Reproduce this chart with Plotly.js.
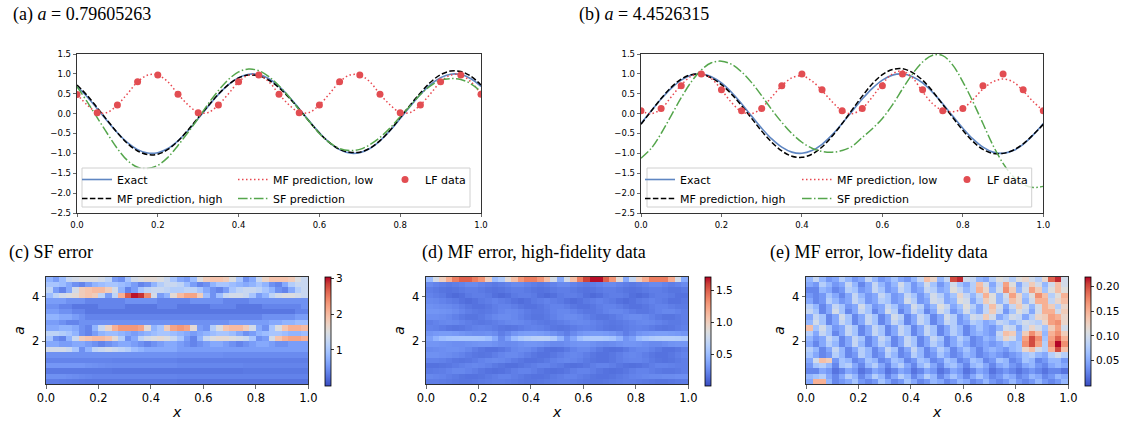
<!DOCTYPE html>
<html><head><meta charset="utf-8">
<script src="https://cdn.plot.ly/plotly-3.0.1.min.js"></script>
<style>html,body{margin:0;padding:0;background:#fff}#chart{width:1125px;height:424px}</style>
</head><body><div id="chart"></div>
<script>
// ---------- line-plot data ----------
const xLine = [0,0.025,0.05,0.075,0.1,0.125,0.15,0.175,0.2,0.225,0.25,0.275,0.3,0.325,0.35,0.375,0.4,0.425,0.45,0.475,0.5,0.525,0.55,0.575,0.6,0.625,0.65,0.675,0.7,0.725,0.75,0.775,0.8,0.825,0.85,0.875,0.9,0.925,0.95,0.975,1];
const xLF = [0,0.05,0.1,0.15,0.2,0.25,0.3,0.35,0.4,0.45,0.5,0.55,0.6,0.65,0.7,0.75,0.8,0.85,0.9,0.95,1];

const exactA = [0.685,0.426,0.125,-0.187,-0.482,-0.729,-0.905,-0.992,-0.982,-0.876,-0.685,-0.426,-0.125,0.187,0.482,0.729,0.905,0.992,0.982,0.876,0.685,0.426,0.125,-0.187,-0.482,-0.729,-0.905,-0.992,-0.982,-0.876,-0.685,-0.426,-0.125,0.187,0.482,0.729,0.905,0.992,0.982,0.876,0.685];
const mfHighA = [0.72,0.46,0.15,-0.17,-0.48,-0.75,-0.94,-1.03,-1.02,-0.9,-0.69,-0.41,-0.1,0.2,0.49,0.73,0.9,0.97,0.95,0.84,0.65,0.4,0.11,-0.2,-0.49,-0.73,-0.9,-0.97,-0.97,-0.87,-0.68,-0.42,-0.1,0.22,0.52,0.79,0.98,1.07,1.06,0.94,0.72];
const mfLowA = [0.49,0.22,0.03,0.03,0.22,0.5,0.8,0.97,0.97,0.8,0.49,0.22,0.03,0.03,0.22,0.5,0.8,0.97,0.97,0.8,0.49,0.22,0.03,0.03,0.22,0.5,0.8,0.97,0.97,0.8,0.49,0.22,0.03,0.03,0.22,0.5,0.8,0.97,0.97,0.8,0.49];
const sfA = [0.68,0.3,-0.1,-0.5,-0.88,-1.18,-1.35,-1.38,-1.3,-1.1,-0.8,-0.47,-0.12,0.25,0.58,0.86,1.05,1.12,1.08,0.93,0.7,0.42,0.1,-0.2,-0.5,-0.73,-0.88,-0.93,-0.9,-0.78,-0.6,-0.36,-0.08,0.2,0.48,0.7,0.84,0.88,0.86,0.75,0.55];
const lfA = [0.48,0.02,0.22,0.8,0.97,0.49,0.02,0.22,0.8,0.97,0.49,0.02,0.22,0.8,0.97,0.49,0.02,0.22,0.8,0.97,0.49];

const exactB = [-0.249,0.063,0.368,0.637,0.844,0.969,0.998,0.93,0.771,0.536,0.249,-0.063,-0.368,-0.637,-0.844,-0.969,-0.998,-0.93,-0.771,-0.536,-0.249,0.063,0.368,0.637,0.844,0.969,0.998,0.93,0.771,0.536,0.249,-0.063,-0.368,-0.637,-0.844,-0.969,-0.998,-0.93,-0.771,-0.536,-0.249];
const mfHighB = [-0.27,0.06,0.38,0.66,0.87,0.98,0.99,0.9,0.73,0.49,0.2,-0.12,-0.44,-0.72,-0.94,-1.07,-1.1,-1.02,-0.84,-0.57,-0.25,0.1,0.44,0.75,0.98,1.11,1.13,1.03,0.84,0.56,0.23,-0.1,-0.42,-0.7,-0.9,-1.0,-1.0,-0.92,-0.76,-0.53,-0.27];
const mfLowB = [0.07,0.0,0.12,0.42,0.72,0.94,1.0,0.88,0.6,0.28,0.05,0.0,0.14,0.42,0.7,0.9,0.95,0.82,0.58,0.3,0.07,0.0,0.13,0.42,0.75,1.0,1.07,0.9,0.55,0.25,0.08,0.05,0.13,0.35,0.62,0.8,0.87,0.8,0.57,0.3,0.07];
const sfB = [-1.12,-0.88,-0.5,-0.05,0.4,0.8,1.1,1.28,1.32,1.24,1.05,0.78,0.45,0.1,-0.22,-0.5,-0.72,-0.87,-0.95,-0.97,-0.93,-0.82,-0.6,-0.38,-0.12,0.22,0.62,1.0,1.3,1.47,1.46,1.22,0.8,0.3,-0.25,-0.8,-1.25,-1.58,-1.78,-1.86,-1.83];
const lfB = [0.07,0.13,0.7,1.0,0.6,0.07,0.13,0.7,1.0,0.6,0.07,0.13,0.7,1.0,0.6,0.07,0.13,0.7,1.0,0.6,0.07];

const lineYTicks = [-2.5,-2.0,-1.5,-1.0,-0.5,0.0,0.5,1.0,1.5];
const xTicks = [0,0.2,0.4,0.6,0.8,1.0];
const aTicks = [2,4];

// ---------- heatmap grids ----------
const xGrid = [0.0125,0.0375,0.0625,0.0875,0.1125,0.1375,0.1625,0.1875,0.2125,0.2375,0.2625,0.2875,0.3125,0.3375,0.3625,0.3875,0.4125,0.4375,0.4625,0.4875,0.5125,0.5375,0.5625,0.5875,0.6125,0.6375,0.6625,0.6875,0.7125,0.7375,0.7625,0.7875,0.8125,0.8375,0.8625,0.8875,0.9125,0.9375,0.9625,0.9875];
const aGrid = [0.171,0.414,0.656,0.899,1.141,1.384,1.626,1.869,2.111,2.354,2.596,2.839,3.081,3.324,3.566,3.809,4.051,4.294,4.536,4.779];

const errSF = [
[0.35,0.35,0.34,0.33,0.32,0.31,0.3,0.3,0.3,0.3,0.3,0.3,0.3,0.3,0.3,0.3,0.3,0.3,0.3,0.3,0.28,0.28,0.28,0.28,0.28,0.28,0.28,0.28,0.28,0.28,0.28,0.28,0.28,0.28,0.28,0.28,0.28,0.28,0.28,0.28],
[0.5,0.5,0.5,0.48,0.46,0.44,0.42,0.4,0.4,0.4,0.4,0.4,0.4,0.4,0.4,0.4,0.4,0.4,0.4,0.4,0.38,0.38,0.38,0.38,0.38,0.38,0.38,0.38,0.38,0.38,0.38,0.38,0.38,0.38,0.38,0.38,0.38,0.38,0.38,0.38],
[0.32,0.32,0.32,0.32,0.32,0.32,0.32,0.32,0.32,0.32,0.3,0.3,0.3,0.3,0.3,0.3,0.3,0.3,0.3,0.3,0.3,0.3,0.3,0.3,0.3,0.3,0.3,0.3,0.3,0.3,0.32,0.32,0.32,0.32,0.32,0.32,0.32,0.32,0.32,0.32],
[0.55,0.55,0.55,0.55,0.55,0.55,0.52,0.5,0.48,0.46,0.45,0.45,0.45,0.45,0.45,0.45,0.45,0.45,0.45,0.45,0.42,0.42,0.42,0.42,0.42,0.42,0.42,0.42,0.42,0.42,0.4,0.4,0.4,0.4,0.4,0.4,0.4,0.4,0.4,0.4],
[0.4,0.4,0.4,0.4,0.4,0.4,0.4,0.4,0.4,0.4,0.38,0.38,0.38,0.38,0.38,0.38,0.38,0.38,0.38,0.38,0.35,0.35,0.35,0.35,0.35,0.35,0.35,0.35,0.35,0.35,0.35,0.35,0.35,0.35,0.35,0.35,0.35,0.35,0.35,0.35],
[0.5,0.5,0.5,0.5,0.5,0.5,0.5,0.5,0.5,0.5,0.5,0.5,0.5,0.5,0.5,0.5,0.5,0.5,0.5,0.5,0.48,0.48,0.48,0.48,0.48,0.48,0.48,0.45,0.45,0.45,0.45,0.45,0.45,0.45,0.45,0.45,0.45,0.45,0.45,0.45],
[1.4,1.4,1.4,1.3,1.0,0.5,0.8,1.2,1.3,1.4,1.3,1.2,1.1,0.9,0.8,0.7,0.7,0.7,0.7,0.7,0.6,0.6,0.6,0.6,0.6,0.6,0.6,0.6,0.6,0.6,0.6,0.6,0.6,0.6,0.6,0.6,0.6,0.6,0.6,0.6],
[0.7,0.7,0.6,0.6,0.7,0.7,0.6,0.5,0.4,0.5,0.6,0.7,0.7,0.6,0.5,0.4,0.5,0.6,0.7,0.7,0.6,0.5,0.4,0.5,0.6,0.7,0.7,0.6,0.5,0.4,0.5,0.6,0.7,0.7,0.6,0.5,0.5,0.6,0.6,0.6],
[1.0,0.5,0.4,0.8,1.3,1.8,1.9,2.0,2.0,1.9,1.6,1.1,0.5,0.7,1.2,1.4,1.5,1.6,1.5,1.3,1.0,0.6,0.4,0.8,1.3,1.5,1.6,1.6,1.5,1.4,1.3,1.0,0.5,0.6,1.4,1.9,2.1,2.2,2.2,2.1],
[1.2,1.2,1.1,1.0,0.8,0.5,0.4,0.6,0.8,0.9,0.9,0.8,0.7,0.6,0.7,0.8,0.9,1.0,1.0,0.9,0.8,0.7,0.6,0.7,0.8,0.9,1.0,1.0,0.9,0.7,0.5,0.6,0.8,0.9,1.0,1.0,0.9,0.8,0.8,0.9],
[0.7,0.7,0.8,0.8,0.7,0.5,0.4,0.8,1.3,1.7,2.1,2.3,2.3,2.3,2.2,1.6,0.8,1.0,1.8,2.2,2.3,2.2,1.6,0.6,0.5,1.1,1.5,1.9,2.0,2.0,1.8,1.4,0.7,0.5,1.0,1.5,1.9,2.1,2.1,2.0],
[0.6,0.6,0.5,0.4,0.4,0.5,0.5,0.5,0.5,0.5,0.5,0.5,0.5,0.5,0.5,0.5,0.5,0.5,0.5,0.5,0.5,0.5,0.5,0.5,0.5,0.5,0.5,0.5,0.6,0.6,0.6,0.6,0.6,0.6,0.7,0.7,0.8,0.8,0.9,0.9],
[0.8,0.8,0.7,0.7,0.6,0.5,0.4,0.4,0.4,0.4,0.4,0.4,0.4,0.4,0.4,0.4,0.4,0.4,0.4,0.4,0.4,0.4,0.4,0.4,0.4,0.4,0.4,0.4,0.4,0.4,0.4,0.4,0.4,0.5,0.5,0.5,0.5,0.5,0.6,0.6],
[0.6,0.6,0.5,0.5,0.4,0.4,0.3,0.3,0.3,0.3,0.3,0.3,0.3,0.3,0.3,0.3,0.3,0.3,0.3,0.3,0.3,0.3,0.3,0.3,0.3,0.3,0.3,0.3,0.3,0.3,0.3,0.3,0.3,0.3,0.3,0.3,0.3,0.3,0.4,0.4],
[0.5,0.5,0.4,0.4,0.3,0.3,0.3,0.3,0.4,0.4,0.4,0.4,0.3,0.3,0.3,0.3,0.3,0.4,0.4,0.4,0.3,0.3,0.3,0.3,0.3,0.4,0.4,0.4,0.4,0.3,0.3,0.3,0.3,0.4,0.4,0.4,0.4,0.4,0.4,0.5],
[0.6,0.6,0.6,0.5,0.5,0.5,0.4,0.4,0.4,0.4,0.4,0.4,0.5,0.5,0.5,0.5,0.5,0.4,0.4,0.4,0.4,0.4,0.5,0.5,0.5,0.5,0.5,0.4,0.4,0.4,0.4,0.5,0.5,0.5,0.5,0.5,0.5,0.5,0.5,0.5],
[0.9,1.2,1.4,1.5,1.6,1.8,1.9,1.8,1.2,0.6,1.2,2.1,2.7,3.0,2.9,2.4,1.4,0.6,0.8,1.6,2.0,2.2,2.2,1.8,0.9,0.5,0.9,1.3,1.4,1.4,1.3,1.0,0.6,0.8,1.2,1.4,1.5,1.5,1.4,1.3],
[1.2,0.6,0.4,0.7,1.4,1.8,1.9,2.0,2.0,1.8,1.4,0.8,0.4,0.6,1.0,1.2,1.3,1.3,1.2,1.1,1.1,1.2,1.2,1.0,0.7,0.5,0.4,0.6,1.0,1.2,1.3,1.3,1.2,1.0,0.8,0.5,0.4,0.7,1.1,1.3],
[1.0,1.0,0.9,0.7,0.5,0.4,0.6,0.8,0.9,1.0,1.0,0.9,0.8,0.6,0.4,0.5,0.8,1.1,1.3,1.3,1.2,0.9,0.6,0.4,0.5,0.8,1.0,1.0,0.9,0.8,0.7,0.8,1.0,0.8,0.5,0.4,0.7,1.1,1.3,1.3],
[0.8,0.6,0.9,1.3,1.4,1.5,1.5,1.5,1.4,1.2,0.6,0.5,1.0,1.4,1.5,1.6,1.6,1.5,1.3,1.0,0.7,0.6,0.9,1.5,1.8,1.9,1.9,1.8,1.5,1.0,0.5,0.7,1.3,1.7,1.9,1.9,1.9,1.8,1.5,1.3]
];

const errMFHigh = [
[0.2,0.2,0.19,0.18,0.17,0.16,0.16,0.17,0.18,0.19,0.2,0.2,0.19,0.18,0.17,0.16,0.16,0.17,0.18,0.19,0.2,0.2,0.19,0.18,0.17,0.16,0.16,0.17,0.18,0.19,0.2,0.2,0.19,0.18,0.17,0.16,0.16,0.17,0.18,0.19],
[0.24,0.23,0.22,0.2,0.18,0.16,0.15,0.15,0.16,0.18,0.2,0.22,0.22,0.2,0.18,0.16,0.15,0.15,0.16,0.18,0.2,0.22,0.22,0.2,0.18,0.16,0.15,0.15,0.16,0.18,0.2,0.22,0.23,0.24,0.25,0.25,0.26,0.26,0.27,0.27],
[0.18,0.19,0.2,0.22,0.24,0.24,0.22,0.2,0.17,0.15,0.14,0.15,0.17,0.2,0.22,0.22,0.2,0.17,0.15,0.14,0.15,0.17,0.2,0.22,0.22,0.2,0.17,0.15,0.14,0.15,0.17,0.2,0.22,0.22,0.2,0.18,0.17,0.17,0.18,0.2],
[0.15,0.15,0.16,0.17,0.19,0.21,0.23,0.24,0.23,0.21,0.18,0.16,0.14,0.14,0.16,0.18,0.2,0.22,0.22,0.2,0.18,0.15,0.14,0.15,0.17,0.2,0.22,0.22,0.2,0.17,0.15,0.14,0.15,0.17,0.2,0.22,0.22,0.21,0.2,0.2],
[0.22,0.22,0.21,0.19,0.17,0.16,0.17,0.19,0.22,0.24,0.25,0.24,0.22,0.19,0.17,0.15,0.15,0.16,0.18,0.21,0.23,0.24,0.23,0.21,0.18,0.16,0.15,0.15,0.17,0.2,0.22,0.23,0.23,0.21,0.18,0.16,0.15,0.16,0.18,0.2],
[0.28,0.28,0.27,0.26,0.24,0.22,0.19,0.17,0.16,0.17,0.2,0.23,0.25,0.25,0.23,0.2,0.17,0.15,0.15,0.17,0.2,0.23,0.24,0.23,0.2,0.17,0.15,0.15,0.17,0.2,0.23,0.24,0.23,0.2,0.17,0.15,0.15,0.17,0.2,0.22],
[0.25,0.26,0.27,0.28,0.28,0.27,0.24,0.2,0.17,0.15,0.15,0.17,0.2,0.24,0.26,0.25,0.22,0.18,0.15,0.14,0.15,0.18,0.22,0.25,0.25,0.22,0.18,0.15,0.14,0.15,0.18,0.22,0.24,0.24,0.21,0.18,0.15,0.15,0.17,0.2],
[0.3,0.3,0.29,0.28,0.27,0.27,0.28,0.29,0.3,0.3,0.28,0.26,0.25,0.26,0.28,0.3,0.3,0.29,0.27,0.25,0.25,0.27,0.29,0.3,0.3,0.28,0.26,0.25,0.26,0.28,0.3,0.3,0.29,0.27,0.25,0.25,0.27,0.29,0.3,0.3],
[0.35,0.45,0.52,0.55,0.56,0.57,0.57,0.57,0.56,0.52,0.4,0.25,0.35,0.5,0.58,0.62,0.65,0.66,0.65,0.6,0.45,0.28,0.38,0.52,0.58,0.6,0.6,0.58,0.55,0.45,0.3,0.35,0.5,0.56,0.6,0.62,0.63,0.63,0.62,0.6],
[0.3,0.32,0.33,0.33,0.32,0.3,0.28,0.27,0.27,0.28,0.26,0.2,0.24,0.3,0.33,0.34,0.34,0.33,0.31,0.28,0.24,0.2,0.25,0.3,0.32,0.33,0.33,0.32,0.3,0.26,0.2,0.24,0.3,0.32,0.33,0.34,0.34,0.33,0.32,0.3],
[0.22,0.21,0.19,0.17,0.16,0.17,0.19,0.21,0.22,0.21,0.19,0.17,0.16,0.17,0.19,0.21,0.22,0.21,0.19,0.17,0.16,0.17,0.19,0.21,0.22,0.21,0.19,0.17,0.16,0.17,0.19,0.21,0.22,0.21,0.19,0.17,0.16,0.17,0.19,0.21],
[0.2,0.22,0.24,0.25,0.24,0.22,0.2,0.18,0.17,0.18,0.2,0.22,0.24,0.25,0.24,0.22,0.2,0.18,0.17,0.18,0.2,0.22,0.24,0.25,0.24,0.22,0.2,0.18,0.17,0.18,0.2,0.22,0.24,0.25,0.24,0.22,0.2,0.18,0.18,0.2],
[0.27,0.27,0.26,0.24,0.21,0.18,0.16,0.16,0.18,0.21,0.24,0.26,0.26,0.24,0.21,0.18,0.16,0.16,0.18,0.21,0.24,0.26,0.26,0.24,0.21,0.18,0.16,0.16,0.18,0.21,0.24,0.26,0.26,0.24,0.21,0.18,0.16,0.16,0.18,0.2],
[0.3,0.3,0.29,0.28,0.26,0.23,0.2,0.18,0.17,0.18,0.2,0.23,0.25,0.24,0.22,0.19,0.17,0.17,0.19,0.22,0.24,0.24,0.22,0.19,0.17,0.17,0.19,0.22,0.24,0.24,0.22,0.19,0.17,0.17,0.19,0.22,0.24,0.24,0.22,0.2],
[0.28,0.27,0.26,0.25,0.23,0.2,0.17,0.15,0.15,0.17,0.2,0.22,0.22,0.2,0.17,0.15,0.15,0.17,0.2,0.22,0.22,0.2,0.17,0.15,0.15,0.17,0.2,0.22,0.22,0.2,0.17,0.15,0.15,0.17,0.2,0.22,0.22,0.2,0.18,0.18],
[0.25,0.24,0.22,0.2,0.18,0.15,0.13,0.15,0.18,0.2,0.22,0.2,0.18,0.15,0.13,0.15,0.18,0.2,0.22,0.2,0.18,0.15,0.13,0.15,0.18,0.2,0.22,0.2,0.18,0.15,0.13,0.15,0.18,0.2,0.22,0.2,0.18,0.15,0.15,0.17],
[0.22,0.2,0.18,0.14,0.12,0.14,0.18,0.2,0.2,0.18,0.14,0.12,0.14,0.18,0.2,0.2,0.18,0.14,0.12,0.14,0.18,0.2,0.2,0.18,0.14,0.12,0.14,0.18,0.2,0.2,0.18,0.14,0.12,0.14,0.18,0.2,0.2,0.18,0.15,0.15],
[0.2,0.18,0.16,0.15,0.16,0.18,0.2,0.2,0.18,0.16,0.15,0.16,0.18,0.2,0.2,0.18,0.16,0.15,0.16,0.18,0.2,0.2,0.18,0.16,0.15,0.16,0.18,0.2,0.2,0.18,0.16,0.15,0.16,0.18,0.2,0.2,0.18,0.16,0.16,0.18],
[0.25,0.22,0.2,0.18,0.2,0.22,0.25,0.25,0.22,0.2,0.18,0.2,0.22,0.25,0.25,0.22,0.2,0.18,0.2,0.22,0.25,0.25,0.22,0.2,0.18,0.2,0.22,0.25,0.25,0.22,0.2,0.18,0.2,0.22,0.25,0.25,0.22,0.2,0.22,0.25],
[0.5,0.8,1.0,1.2,1.4,1.5,1.5,1.4,1.3,1.0,0.5,0.6,0.9,1.1,1.3,1.4,1.4,1.3,1.1,0.8,0.4,0.8,1.1,1.4,1.6,1.7,1.7,1.5,1.3,0.9,0.4,0.7,1.0,1.2,1.4,1.4,1.4,1.2,0.8,0.4]
];

const errMFLow = [
[0.05,0.15,0.15,0.06,0.03,0.04,0.05,0.07,0.04,0.03,0.04,0.07,0.05,0.03,0.04,0.07,0.05,0.03,0.04,0.06,0.05,0.03,0.04,0.06,0.05,0.03,0.04,0.06,0.04,0.03,0.04,0.06,0.04,0.03,0.04,0.06,0.04,0.03,0.04,0.06],
[0.06,0.07,0.08,0.05,0.03,0.05,0.08,0.06,0.03,0.05,0.08,0.06,0.03,0.05,0.08,0.06,0.03,0.05,0.08,0.06,0.03,0.05,0.07,0.05,0.03,0.05,0.07,0.05,0.03,0.04,0.06,0.05,0.03,0.04,0.06,0.05,0.03,0.04,0.06,0.05],
[0.03,0.03,0.05,0.04,0.02,0.03,0.05,0.04,0.02,0.03,0.05,0.04,0.02,0.03,0.05,0.04,0.02,0.03,0.05,0.04,0.02,0.03,0.05,0.04,0.02,0.03,0.05,0.04,0.02,0.03,0.04,0.03,0.02,0.03,0.04,0.03,0.02,0.03,0.03,0.02],
[0.04,0.07,0.08,0.06,0.03,0.07,0.08,0.05,0.03,0.06,0.08,0.05,0.03,0.06,0.08,0.05,0.03,0.06,0.08,0.05,0.03,0.06,0.07,0.05,0.03,0.06,0.07,0.05,0.03,0.05,0.06,0.04,0.03,0.05,0.06,0.04,0.03,0.05,0.06,0.05],
[0.05,0.1,0.14,0.13,0.04,0.07,0.06,0.03,0.04,0.07,0.06,0.03,0.04,0.07,0.06,0.03,0.04,0.07,0.06,0.03,0.04,0.07,0.06,0.03,0.04,0.07,0.06,0.03,0.04,0.07,0.06,0.03,0.04,0.07,0.06,0.03,0.04,0.06,0.06,0.04],
[0.07,0.05,0.03,0.04,0.08,0.06,0.03,0.04,0.08,0.06,0.03,0.04,0.08,0.06,0.03,0.04,0.08,0.06,0.03,0.04,0.07,0.05,0.03,0.04,0.06,0.05,0.03,0.04,0.05,0.04,0.03,0.04,0.05,0.07,0.08,0.06,0.05,0.08,0.1,0.08],
[0.08,0.06,0.03,0.05,0.09,0.06,0.03,0.05,0.08,0.06,0.03,0.05,0.09,0.07,0.03,0.05,0.09,0.06,0.03,0.05,0.08,0.06,0.03,0.05,0.07,0.05,0.03,0.05,0.06,0.05,0.04,0.06,0.07,0.12,0.14,0.1,0.08,0.15,0.2,0.14],
[0.05,0.03,0.05,0.08,0.06,0.03,0.05,0.09,0.06,0.03,0.05,0.08,0.06,0.03,0.05,0.09,0.07,0.03,0.05,0.08,0.06,0.03,0.05,0.07,0.05,0.03,0.04,0.05,0.04,0.05,0.07,0.06,0.07,0.17,0.2,0.16,0.08,0.17,0.22,0.17],
[0.06,0.04,0.05,0.09,0.07,0.03,0.05,0.09,0.07,0.03,0.05,0.09,0.07,0.03,0.05,0.09,0.07,0.03,0.05,0.09,0.07,0.03,0.05,0.08,0.06,0.03,0.04,0.06,0.05,0.08,0.12,0.1,0.06,0.16,0.2,0.17,0.07,0.16,0.19,0.15],
[0.08,0.05,0.09,0.07,0.03,0.05,0.09,0.07,0.03,0.05,0.09,0.07,0.03,0.05,0.09,0.07,0.03,0.05,0.09,0.07,0.03,0.05,0.08,0.06,0.03,0.05,0.06,0.05,0.04,0.09,0.14,0.13,0.06,0.13,0.17,0.14,0.06,0.15,0.17,0.13],
[0.14,0.07,0.1,0.07,0.04,0.05,0.09,0.07,0.03,0.05,0.09,0.07,0.03,0.05,0.09,0.07,0.03,0.05,0.09,0.07,0.03,0.05,0.08,0.06,0.03,0.05,0.07,0.05,0.04,0.06,0.1,0.09,0.05,0.09,0.12,0.1,0.07,0.13,0.16,0.1],
[0.06,0.1,0.07,0.03,0.05,0.09,0.07,0.03,0.05,0.09,0.07,0.03,0.05,0.09,0.07,0.03,0.05,0.09,0.07,0.03,0.05,0.09,0.08,0.04,0.05,0.08,0.07,0.05,0.06,0.09,0.08,0.06,0.08,0.1,0.09,0.08,0.12,0.16,0.17,0.12],
[0.05,0.09,0.07,0.03,0.05,0.1,0.07,0.03,0.05,0.09,0.07,0.03,0.05,0.1,0.08,0.03,0.05,0.09,0.07,0.03,0.05,0.1,0.08,0.04,0.06,0.1,0.09,0.13,0.1,0.05,0.07,0.1,0.09,0.05,0.08,0.12,0.13,0.16,0.15,0.12],
[0.09,0.07,0.03,0.05,0.1,0.07,0.03,0.05,0.09,0.07,0.03,0.05,0.1,0.08,0.03,0.05,0.09,0.07,0.03,0.05,0.1,0.08,0.04,0.06,0.1,0.07,0.05,0.09,0.13,0.09,0.04,0.07,0.11,0.09,0.05,0.1,0.15,0.15,0.1,0.13],
[0.08,0.06,0.03,0.05,0.09,0.07,0.04,0.05,0.1,0.07,0.04,0.05,0.09,0.07,0.04,0.05,0.1,0.08,0.04,0.06,0.11,0.09,0.05,0.07,0.11,0.08,0.05,0.09,0.14,0.1,0.05,0.09,0.13,0.1,0.06,0.1,0.15,0.13,0.08,0.12],
[0.05,0.03,0.04,0.08,0.06,0.04,0.05,0.09,0.07,0.04,0.05,0.08,0.07,0.04,0.05,0.1,0.08,0.04,0.05,0.1,0.09,0.05,0.06,0.11,0.1,0.05,0.08,0.13,0.11,0.06,0.09,0.14,0.12,0.06,0.1,0.15,0.15,0.09,0.12,0.14],
[0.04,0.03,0.04,0.07,0.05,0.03,0.05,0.09,0.06,0.04,0.05,0.09,0.07,0.04,0.05,0.09,0.07,0.04,0.06,0.1,0.08,0.05,0.07,0.12,0.09,0.06,0.09,0.15,0.11,0.06,0.1,0.16,0.12,0.07,0.11,0.17,0.14,0.08,0.11,0.15],
[0.03,0.03,0.06,0.05,0.03,0.04,0.08,0.07,0.04,0.05,0.09,0.07,0.04,0.05,0.09,0.07,0.04,0.05,0.09,0.08,0.05,0.06,0.11,0.09,0.06,0.08,0.15,0.12,0.06,0.1,0.17,0.13,0.06,0.1,0.16,0.13,0.07,0.11,0.14,0.11],
[0.05,0.04,0.08,0.06,0.04,0.05,0.09,0.06,0.03,0.05,0.09,0.06,0.04,0.06,0.1,0.07,0.04,0.06,0.1,0.07,0.04,0.06,0.1,0.07,0.05,0.08,0.14,0.1,0.05,0.09,0.16,0.11,0.05,0.09,0.13,0.1,0.06,0.1,0.14,0.1],
[0.06,0.09,0.06,0.04,0.05,0.08,0.06,0.04,0.05,0.09,0.06,0.04,0.05,0.07,0.05,0.04,0.06,0.09,0.14,0.12,0.06,0.09,0.2,0.21,0.1,0.09,0.06,0.05,0.08,0.11,0.1,0.08,0.11,0.12,0.1,0.08,0.12,0.19,0.21,0.1]
];

const sfTicks = [1,2,3];
const mfHighTicks = [0.5,1.0,1.5];
const mfLowTicks = [0.05,0.10,0.15,0.20];

// ---------- styling ----------
const coolwarm = [[0,'rgb(58,76,192)'],[0.0625,'rgb(77,104,215)'],[0.125,'rgb(98,130,234)'],[0.1875,'rgb(119,154,247)'],[0.25,'rgb(141,176,254)'],[0.3125,'rgb(163,194,255)'],[0.375,'rgb(184,208,249)'],[0.4375,'rgb(204,217,238)'],[0.5,'rgb(221,221,221)'],[0.5625,'rgb(236,211,197)'],[0.625,'rgb(245,196,173)'],[0.6875,'rgb(247,176,148)'],[0.75,'rgb(244,154,123)'],[0.8125,'rgb(236,127,99)'],[0.875,'rgb(222,96,77)'],[0.9375,'rgb(203,62,56)'],[1,'rgb(180,4,38)']];
const F = 'DejaVu Sans, sans-serif';
const C_EXACT = '#5f86c2', C_LOW = '#e8474f', C_LF = '#e24d52', C_SF = '#55a64c';

function lineTraces(ax, ay, ex, hi, lo, sf, lf, L) {
  return [
    {x:xLine, y:ex, xaxis:ax, yaxis:ay, type:'scatter', mode:'lines', name:'Exact', legend:L[0],
     line:{color:C_EXACT, width:1.6, shape:'spline'}},
    {x:xLine, y:hi, xaxis:ax, yaxis:ay, type:'scatter', mode:'lines', name:'MF prediction, high', legend:L[0],
     line:{color:'#000', width:1.5, dash:'5.5px,2.4px', shape:'spline'}},
    {x:xLine, y:lo, xaxis:ax, yaxis:ay, type:'scatter', mode:'lines', name:'MF prediction, low', legend:L[1],
     line:{color:C_LOW, width:1.5, dash:'1.5px,2.5px', shape:'spline'}},
    {x:xLine, y:sf, xaxis:ax, yaxis:ay, type:'scatter', mode:'lines', name:'SF prediction', legend:L[1],
     line:{color:C_SF, width:1.5, dash:'9.6px,2.4px,1.5px,2.4px', shape:'spline'}},
    {x:xLF, y:lf, xaxis:ax, yaxis:ay, type:'scatter', mode:'markers', name:'LF data', legend:L[2],
     marker:{color:C_LF, size:7, line:{width:0}}}
  ];
}

function hm(z, ax, ay, zmax, ticks, fmt, cbx) {
  return {type:'heatmap', x:xGrid, y:aGrid, z:z, xaxis:ax, yaxis:ay, zmin:0, zmax:zmax,
    colorscale:coolwarm, zsmooth:false, showscale:true, hoverinfo:'skip',
    colorbar:{x:cbx, xanchor:'left', y:1-331.2/424, yanchor:'middle', len:109/424, lenmode:'fraction',
      thickness:6, thicknessmode:'pixels', xpad:0, ypad:0, outlinewidth:0.8, outlinecolor:'#000',
      tickvals:ticks, tickformat:fmt, ticks:'outside', ticklen:3, tickwidth:0.8, tickcolor:'#000',
      tickfont:{family:F, size:10.5, color:'#000'}}};
}

const traces = [
  ...lineTraces('x','y', exactA, mfHighA, mfLowA, sfA, lfA, ['legend','legend2','legend3']),
  ...lineTraces('x2','y2', exactB, mfHighB, mfLowB, sfB, lfB, ['legend4','legend5','legend6']),
  hm(errSF, 'x3','y3', 3.05, sfTicks, 'd', 325/1125),
  hm(errMFHigh, 'x4','y4', 1.72, mfHighTicks, '.1f', 705/1125),
  hm(errMFLow, 'x5','y5', 0.219, mfLowTicks, '.2f', 1085/1125)
];

function lineAxisX(d, anchor) {
  return {domain:d, anchor:anchor, range:[0,1], tickvals:xTicks, tickformat:'.1f', ticks:'outside', ticklen:3.5,
    tickwidth:0.8, showline:true, mirror:true, linecolor:'#000', linewidth:0.8, showgrid:false, zeroline:false,
    tickfont:{family:F, size:8.5, color:'#000'}};
}
function lineAxisY(d, anchor) {
  return {domain:d, anchor:anchor, range:[-2.5,1.5], tickvals:lineYTicks, tickformat:'.1f', ticks:'outside', ticklen:3.5,
    tickwidth:0.8, showline:true, mirror:true, linecolor:'#000', linewidth:0.8, showgrid:false, zeroline:false,
    tickfont:{family:F, size:8.5, color:'#000'}};
}
function hmAxisX(d, anchor) {
  return {domain:d, anchor:anchor, range:[0,1], tickvals:xTicks, tickformat:'.1f', ticks:'outside', ticklen:3.5,
    tickwidth:0.8, showline:true, mirror:true, linecolor:'#000', linewidth:0.8, showgrid:false, zeroline:false,
    tickfont:{family:F, size:11.5, color:'#000'},
    title:{text:'<i>x</i>', font:{family:F, size:14, color:'#000'}, standoff:2}};
}
function hmAxisY(d, anchor) {
  return {domain:d, anchor:anchor, range:[0.05,4.9], tickvals:aTicks, ticks:'outside', ticklen:3.5,
    tickwidth:0.8, showline:true, mirror:true, linecolor:'#000', linewidth:0.8, showgrid:false, zeroline:false,
    tickfont:{family:F, size:11.5, color:'#000'},
    title:{text:'<i>a</i>', font:{family:F, size:14, color:'#000'}, standoff:4}};
}

const topY = [1-213/424, 1-54/424];
const botY = [1-384.3/424, 1-276.7/424];

function leg(xpx) {
  return {x:xpx/1125, xanchor:'left', y:1-165/424, yanchor:'top', bgcolor:'rgba(0,0,0,0)', borderwidth:0,
    font:{family:F, size:11, color:'#000'}, itemwidth:30, tracegroupgap:0, orientation:'v'};
}

const serif = 'Liberation Serif, Times New Roman, serif';
function title(txt, xpx, ypx) {
  return {text:txt, xref:'paper', yref:'paper', x:xpx/1125, y:1-ypx/424, xanchor:'left', yanchor:'middle',
    showarrow:false, font:{family:serif, size:18, color:'#000'}};
}

const layout = {
  width:1125, height:424, margin:{l:0,r:0,t:0,b:0}, paper_bgcolor:'#fff', plot_bgcolor:'#fff',
  showlegend:true,
  xaxis: lineAxisX([77/1125, 481/1125], 'y'),
  yaxis: lineAxisY(topY, 'x'),
  xaxis2: lineAxisX([641/1125, 1043.3/1125], 'y2'),
  yaxis2: lineAxisY(topY, 'x2'),
  xaxis3: hmAxisX([46/1125, 308.3/1125], 'y3'),
  yaxis3: hmAxisY(botY, 'x3'),
  xaxis4: hmAxisX([426/1125, 688.3/1125], 'y4'),
  yaxis4: hmAxisY(botY, 'x4'),
  xaxis5: hmAxisX([806/1125, 1068.3/1125], 'y5'),
  yaxis5: hmAxisY(botY, 'x5'),
  legend: leg(77), legend2: leg(233), legend3: leg(385),
  legend4: leg(640), legend5: leg(797), legend6: leg(947),
  shapes: [
    {type:'rect', xref:'paper', yref:'paper', x0:82/1125, x1:470/1125, y0:1-207/424, y1:1-168/424,
     fillcolor:'rgba(255,255,255,0.8)', line:{color:'#d0d0d0', width:1}, layer:'above'},
    {type:'rect', xref:'paper', yref:'paper', x0:647/1125, x1:1031.7/1125, y0:1-207/424, y1:1-168/424,
     fillcolor:'rgba(255,255,255,0.8)', line:{color:'#d0d0d0', width:1}, layer:'above'}
  ],
  annotations: [
    title('(a) <i>a</i> = 0.79605263', 11, 15),
    title('(b) <i>a</i> = 4.4526315', 577, 15),
    title('(c) SF error', 7, 252),
    title('(d) MF error, high-fidelity data', 420, 252),
    title('(e) MF error, low-fidelity data', 768, 252)
  ]
};

Plotly.newPlot('chart', traces, layout, {staticPlot:true, displayModeBar:false});
</script>
</body></html>
